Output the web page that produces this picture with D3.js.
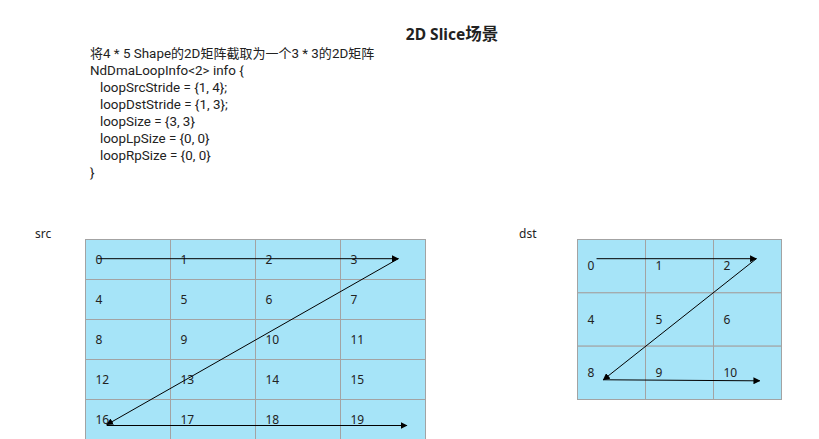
<!DOCTYPE html>
<html>
<head>
<meta charset="utf-8">
<script src="https://cdn.jsdelivr.net/npm/d3@7"></script>
<style>
  body { margin: 0; background: #fff; }
  text { font-family: "Noto Sans", "Noto Sans CJK SC", sans-serif; fill: #222; }
  .desc { font-family: Roboto, "Noto Sans CJK SC", sans-serif; }
</style>
</head>
<body>
<div id="chart-area"></div>
<script>
// DATA
var title = "2D Slice场景";
var descLines = [
    "将4 * 5 Shape的2D矩阵截取为一个3 * 3的2D矩阵",
    "NdDmaLoopInfo<2> info {",
    "   loopSrcStride = {1, 4};",
    "   loopDstStride = {1, 3};",
    "   loopSize = {3, 3}",
    "   loopLpSize = {0, 0}",
    "   loopRpSize = {0, 0}",
    "}"
];
var srcValues = [0, 1, 2, 3, 4, 5, 6, 7, 8, 9, 10, 11, 12, 13, 14, 15, 16, 17, 18, 19];
var dstValues = [0, 1, 2, 4, 5, 6, 8, 9, 10];
// arrow paths in grid units (column, row)
var srcArrows = [
    [[0.14, 0.48], [3.68, 0.48]],
    [[3.68, 0.48], [0.25, 4.63]],
    [[0.25, 4.65], [3.78, 4.65]]
];
var dstArrows = [
    [[0.28, 0.36], [2.63, 0.36]],
    [[2.63, 0.36], [0.38, 2.63]],
    [[0.38, 2.63], [2.68, 2.65]]
];

// SVG
var width = 819, height = 439;
var svg = d3.select("#chart-area")
    .append("svg")
    .attr("width", width)
    .attr("height", height);

// arrow marker
svg.append("defs").append("marker")
    .attr("id", "arrow")
    .attr("viewBox", "0 0 10 10")
    .attr("refX", 9)
    .attr("refY", 5)
    .attr("markerWidth", 7)
    .attr("markerHeight", 7)
    .attr("markerUnits", "userSpaceOnUse")
    .attr("orient", "auto")
    .append("path")
    .attr("d", "M0,0 L10,5 L0,10 Z")
    .attr("fill", "#000");

// split a string into CJK / latin runs so CJK can be sized separately
function runs(s) {
    return s.match(/[\u3000-\u9fff]+|[^\u3000-\u9fff]+/g) || [];
}
function isCjk(s) { return /[\u3000-\u9fff]/.test(s); }

// Title
svg.append("text")
    .attr("x", 452)
    .attr("y", 40)
    .attr("text-anchor", "middle")
    .attr("font-size", "15.5px")
    .attr("font-weight", "bold")
    .selectAll("tspan")
    .data(runs(title))
    .enter().append("tspan")
    .attr("font-size", d => isCjk(d) ? "16.5px" : null)
    .text(d => d);

// Description
svg.append("g").selectAll("text")
    .data(descLines)
    .enter().append("text")
    .attr("class", "desc")
    .attr("x", 90)
    .attr("y", (d, i) => 57.5 + i * 17)
    .attr("font-size", "13.4px")
    .style("white-space", "pre")
    .selectAll("tspan")
    .data(d => runs(d))
    .enter().append("tspan")
    .attr("font-size", d => isCjk(d) ? "13px" : null)
    .text(d => d);

function drawGrid(values, cols, rows, x0, y0, w, h, label, arrows) {
    var x = d3.scaleLinear().domain([0, cols]).range([x0, x0 + w]);
    var y = d3.scaleLinear().domain([0, rows]).range([y0, y0 + h]);
    var g = svg.append("g");

    g.selectAll("rect")
        .data(values)
        .enter().append("rect")
        .attr("x", (d, i) => x(i % cols))
        .attr("y", (d, i) => y(Math.floor(i / cols)))
        .attr("width", x(1) - x(0))
        .attr("height", y(1) - y(0))
        .attr("fill", "#a6e4f8")
        .attr("stroke", "#a3a3a3")
        .attr("stroke-width", 1);

    g.selectAll("text.cell")
        .data(values)
        .enter().append("text")
        .attr("class", "cell")
        .attr("x", (d, i) => x(i % cols) + 10)
        .attr("y", (d, i) => y(Math.floor(i / cols) + 0.5))
        .attr("dy", "0.35em")
        .attr("font-size", "12px")
        .text(d => d);

    g.selectAll("line")
        .data(arrows)
        .enter().append("line")
        .attr("x1", d => x(d[0][0]))
        .attr("y1", d => y(d[0][1]))
        .attr("x2", d => x(d[1][0]))
        .attr("y2", d => y(d[1][1]))
        .attr("stroke", "#000")
        .attr("stroke-width", 1)
        .attr("marker-end", "url(#arrow)");

    svg.append("text")
        .attr("x", label.x)
        .attr("y", label.y)
        .attr("font-size", "12px")
        .text(label.text);
}

drawGrid(srcValues, 4, 5, 85.5, 239.5, 340, 200, { text: "src", x: 35, y: 238 }, srcArrows);
drawGrid(dstValues, 3, 3, 577.5, 239.5, 204, 160, { text: "dst", x: 519, y: 238 }, dstArrows);
</script>
</body>
</html>
